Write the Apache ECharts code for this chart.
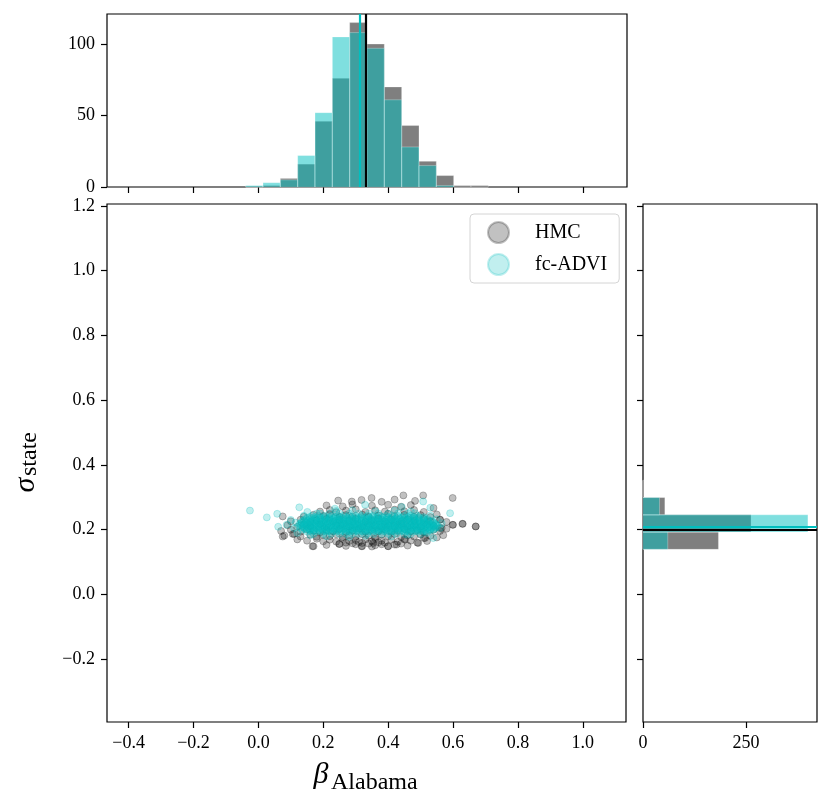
<!DOCTYPE html>
<html>
<head>
<meta charset="utf-8">
<script src="https://cdn.jsdelivr.net/npm/echarts@6/dist/echarts.min.js"></script>
<style>
html, body { margin: 0; padding: 0; background: #fff; }
#chart { width: 831px; height: 809px; }
</style>
</head>
<body>
<div id="chart"></div>
<script>
// axis ranges and ticks
var betaMin = -0.4667, betaMax = 1.1333;
var sigmaMin = -0.394, sigmaMax = 1.206;
var betaTicks = [-0.4, -0.2, 0, 0.2, 0.4, 0.6, 0.8, 1.0];
var sigmaTicks = [-0.2, 0, 0.2, 0.4, 0.6, 0.8, 1.0, 1.2];
var betaCountTicks = [0, 50, 100];
var sigmaCountTicks = [0, 250];
var betaCountMax = 121, sigmaCountMax = 422;

// histograms
var binWidth = 0.0533;
var betaBinStart = [-0.0400, 0.0133, 0.0667, 0.1200, 0.1733, 0.2267, 0.2800, 0.3333, 0.3867, 0.4400, 0.4933, 0.5467, 0.6000, 0.6533];
var hmcBetaCounts = [0, 1, 6, 16, 46, 76, 115, 100, 70, 43, 18, 8, 1, 1];
var advBetaCounts = [1, 3, 5, 22, 52, 105, 108, 97, 61, 28, 15, 1, 0, 0];
var sigmaBinStart = [0.1393, 0.1927, 0.2460, 0.2993];
var hmcSigmaCounts = [183, 262, 53, 2];
var advSigmaCounts = [60, 400, 40, 0];

// means
var hmcMeanBeta = 0.333, advMeanBeta = 0.314;
var hmcMeanSigma = 0.205, advMeanSigma = 0.215;

// HMC samples (beta, sigma)
var hmcPoints = [
  [0.21,0.153],[0.25,0.156],[0.27,0.150],[0.30,0.155],[0.32,0.149],[0.34,0.157],[0.36,0.152],[0.38,0.155],[0.40,0.149],[0.42,0.154],[0.44,0.157],[0.46,0.151],[0.29,0.158],[0.35,0.148],[0.17,0.149],
  [0.12,0.170],[0.15,0.166],[0.18,0.172],[0.20,0.164],[0.22,0.169],[0.24,0.163],[0.26,0.171],[0.28,0.165],[0.30,0.168],[0.31,0.162],[0.33,0.170],[0.35,0.164],[0.36,0.172],[0.38,0.166],[0.39,0.160],[0.41,0.169],[0.43,0.163],[0.45,0.171],[0.47,0.166],[0.49,0.160],[0.51,0.174],[0.52,0.165],[0.27,0.160],[0.32,0.159],[0.37,0.161],
  [0.08,0.182],[0.11,0.187],[0.13,0.179],[0.16,0.185],[0.18,0.178],[0.20,0.184],[0.22,0.180],[0.24,0.186],[0.26,0.177],[0.28,0.183],[0.30,0.179],[0.32,0.186],[0.34,0.181],[0.36,0.177],[0.38,0.184],[0.40,0.180],[0.42,0.187],[0.44,0.178],[0.46,0.183],[0.48,0.179],[0.50,0.185],[0.53,0.181],[0.55,0.176],[0.57,0.183],
  [0.07,0.196],[0.10,0.200],[0.13,0.194],[0.15,0.201],[0.17,0.197],[0.19,0.192],[0.21,0.199],[0.23,0.195],[0.25,0.202],[0.27,0.193],[0.29,0.198],[0.31,0.203],[0.33,0.194],[0.35,0.199],[0.37,0.195],[0.39,0.201],[0.41,0.193],[0.43,0.198],[0.45,0.202],[0.47,0.195],[0.49,0.199],[0.51,0.193],[0.54,0.200],[0.56,0.196],[0.58,0.203],
  [0.09,0.214],[0.12,0.209],[0.14,0.216],[0.16,0.211],[0.19,0.217],[0.21,0.208],[0.24,0.213],[0.26,0.218],[0.28,0.210],[0.30,0.215],[0.32,0.209],[0.34,0.217],[0.36,0.212],[0.38,0.208],[0.40,0.215],[0.42,0.211],[0.44,0.218],[0.46,0.209],[0.48,0.214],[0.50,0.210],[0.52,0.216],[0.54,0.212],[0.56,0.205],[0.60,0.215],[0.63,0.218],[0.67,0.210],
  [0.10,0.226],[0.13,0.231],[0.16,0.224],[0.18,0.229],[0.21,0.233],[0.23,0.225],[0.25,0.230],[0.28,0.227],[0.30,0.233],[0.33,0.224],[0.35,0.229],[0.37,0.234],[0.39,0.226],[0.41,0.231],[0.44,0.225],[0.46,0.232],[0.48,0.227],[0.51,0.233],[0.53,0.226],[0.56,0.231],[0.58,0.224],
  [0.075,0.241],[0.14,0.240],[0.17,0.246],[0.20,0.242],[0.22,0.248],[0.25,0.239],[0.27,0.245],[0.29,0.241],[0.32,0.247],[0.34,0.240],[0.37,0.244],[0.40,0.249],[0.42,0.241],[0.45,0.246],[0.48,0.240],[0.50,0.245],[0.53,0.239],[0.55,0.247],
  [0.19,0.256],[0.22,0.261],[0.24,0.254],[0.27,0.259],[0.30,0.263],[0.33,0.255],[0.36,0.260],[0.39,0.256],[0.42,0.262],[0.45,0.257],[0.48,0.261],[0.51,0.255],
  [0.21,0.275],[0.26,0.272],[0.29,0.278],[0.35,0.274],[0.40,0.277],[0.44,0.271],[0.54,0.267],[0.47,0.276],
  [0.246,0.290],[0.288,0.287],[0.318,0.292],[0.349,0.298],[0.447,0.306],[0.508,0.306],[0.483,0.289],[0.599,0.298],[0.38,0.286],[0.42,0.293],
  [0.075,0.179],[0.106,0.187],[0.167,0.149],[0.249,0.156],[0.318,0.149],[0.354,0.159],[0.40,0.149],[0.426,0.154],[0.452,0.169],[0.493,0.159],[0.514,0.174],[0.565,0.205],[0.56,0.231],[0.599,0.215],[0.629,0.218],[0.670,0.210]
];

// fc-ADVI samples: dense core rows (sigma level + beta values) and the scattered edge points
var advCoreSigma = [0.187, 0.194, 0.197, 0.200, 0.203, 0.206, 0.209, 0.212, 0.215, 0.218, 0.221, 0.224, 0.227, 0.230, 0.233, 0.236, 0.239, 0.243, 0.250];
var advCoreBeta = [
  [0.17,0.20,0.225,0.25,0.27,0.29,0.31,0.335,0.355,0.38,0.40,0.425,0.45,0.47,0.50],
  [0.15,0.165,0.18,0.196,0.21,0.224,0.24,0.253,0.268,0.281,0.296,0.31,0.323,0.338,0.351,0.366,0.38,0.394,0.407,0.421,0.436,0.45,0.464,0.479,0.492,0.507,0.52],
  [0.158,0.173,0.188,0.203,0.217,0.232,0.246,0.261,0.275,0.289,0.303,0.317,0.331,0.345,0.359,0.373,0.387,0.401,0.414,0.428,0.443,0.457,0.471,0.486,0.5,0.514,0.53],
  [0.135,0.147,0.16,0.172,0.185,0.197,0.21,0.221,0.234,0.246,0.258,0.27,0.283,0.295,0.307,0.32,0.332,0.344,0.357,0.369,0.381,0.394,0.406,0.418,0.431,0.443,0.455,0.468,0.48,0.492,0.505,0.517,0.53,0.54],
  [0.142,0.156,0.169,0.183,0.196,0.209,0.223,0.236,0.249,0.263,0.276,0.289,0.302,0.316,0.329,0.342,0.356,0.369,0.382,0.396,0.409,0.422,0.436,0.449,0.462,0.476,0.489,0.502,0.516,0.529,0.542],
  [0.13,0.141,0.154,0.166,0.178,0.19,0.203,0.215,0.227,0.24,0.252,0.264,0.276,0.289,0.301,0.313,0.326,0.338,0.35,0.362,0.375,0.387,0.399,0.412,0.424,0.436,0.449,0.461,0.473,0.485,0.498,0.51,0.522,0.535,0.547],
  [0.136,0.15,0.163,0.177,0.19,0.204,0.217,0.231,0.244,0.258,0.271,0.285,0.298,0.312,0.325,0.339,0.352,0.366,0.379,0.393,0.406,0.42,0.433,0.447,0.46,0.474,0.487,0.501,0.514,0.528,0.541,0.55],
  [0.125,0.137,0.149,0.161,0.174,0.186,0.198,0.21,0.223,0.235,0.247,0.259,0.272,0.284,0.296,0.308,0.321,0.333,0.345,0.357,0.37,0.382,0.394,0.406,0.419,0.431,0.443,0.455,0.468,0.48,0.492,0.504,0.517,0.529,0.541,0.552],
  [0.131,0.145,0.158,0.172,0.185,0.199,0.212,0.226,0.239,0.253,0.266,0.28,0.293,0.307,0.32,0.334,0.347,0.361,0.374,0.388,0.401,0.415,0.428,0.442,0.455,0.469,0.482,0.496,0.509,0.523,0.536,0.548],
  [0.128,0.14,0.152,0.165,0.177,0.189,0.201,0.214,0.226,0.238,0.25,0.263,0.275,0.287,0.299,0.312,0.324,0.336,0.348,0.361,0.373,0.385,0.397,0.41,0.422,0.434,0.446,0.459,0.471,0.483,0.495,0.508,0.52,0.532,0.545],
  [0.134,0.148,0.161,0.175,0.188,0.202,0.215,0.229,0.242,0.256,0.269,0.283,0.296,0.31,0.323,0.337,0.35,0.364,0.377,0.391,0.404,0.418,0.431,0.445,0.458,0.472,0.485,0.499,0.512,0.526,0.54],
  [0.133,0.145,0.157,0.17,0.182,0.194,0.206,0.219,0.231,0.243,0.255,0.268,0.28,0.292,0.304,0.317,0.329,0.341,0.353,0.366,0.378,0.39,0.402,0.415,0.427,0.439,0.451,0.464,0.476,0.488,0.5,0.513,0.525,0.538],
  [0.139,0.153,0.167,0.181,0.195,0.208,0.222,0.236,0.25,0.263,0.277,0.291,0.305,0.318,0.332,0.346,0.36,0.373,0.387,0.401,0.415,0.428,0.442,0.456,0.47,0.483,0.497,0.511,0.525,0.535],
  [0.14,0.153,0.166,0.179,0.191,0.204,0.217,0.229,0.242,0.255,0.267,0.28,0.293,0.305,0.318,0.331,0.343,0.356,0.369,0.381,0.394,0.407,0.419,0.432,0.445,0.457,0.47,0.483,0.495,0.508,0.52],
  [0.146,0.161,0.175,0.19,0.204,0.219,0.233,0.248,0.262,0.277,0.291,0.306,0.32,0.335,0.349,0.364,0.378,0.393,0.407,0.422,0.436,0.451,0.465,0.48,0.494,0.509,0.522],
  [0.15,0.164,0.178,0.191,0.205,0.219,0.233,0.246,0.26,0.274,0.288,0.301,0.315,0.329,0.343,0.356,0.37,0.384,0.398,0.411,0.425,0.439,0.453,0.466,0.48,0.494,0.51],
  [0.158,0.174,0.19,0.206,0.222,0.238,0.254,0.27,0.286,0.302,0.318,0.334,0.35,0.366,0.382,0.398,0.414,0.43,0.446,0.462,0.478,0.495,0.51],
  [0.165,0.185,0.205,0.225,0.245,0.262,0.28,0.30,0.318,0.338,0.355,0.375,0.393,0.412,0.43,0.45,0.468,0.49],
  [0.19,0.22,0.25,0.28,0.31,0.34,0.37,0.40,0.43,0.46]
];
var advEdgePoints = [
  [-0.026,0.259],[0.026,0.238],[0.058,0.249],[0.061,0.209],[0.087,0.215],[0.126,0.269],[0.151,0.255],[0.236,0.265],[0.329,0.277],[0.442,0.270],[0.483,0.251],[0.508,0.287],[0.591,0.251],[0.539,0.174],[0.10,0.230],[0.53,0.268],
  [0.11,0.205],[0.115,0.222],[0.12,0.190],[0.16,0.183],[0.21,0.180],[0.28,0.178],[0.33,0.181],[0.41,0.179],[0.46,0.184],[0.52,0.190],[0.56,0.205],[0.565,0.220],[0.55,0.232],[0.53,0.244],[0.47,0.256],[0.42,0.259],[0.36,0.257],[0.29,0.260],[0.24,0.258],[0.18,0.250],[0.14,0.243]
];

var advPoints = advEdgePoints.slice();
for (var r = 0; r < advCoreSigma.length; r++) {
  for (var c = 0; c < advCoreBeta[r].length; c++) {
    advPoints.push([advCoreBeta[r][c], advCoreSigma[r]]);
  }
}

function binItems(starts, counts) {
  var out = [];
  for (var i = 0; i < starts.length; i++) {
    out.push([starts[i], starts[i] + binWidth, counts[i]]);
  }
  return out;
}

function histRender(horizontal, color) {
  return function (params, api) {
    var a = api.value(0), b = api.value(1), n = api.value(2);
    var p0, p1;
    if (horizontal) {
      p0 = api.coord([0, b]);
      p1 = api.coord([n, a]);
    } else {
      p0 = api.coord([a, n]);
      p1 = api.coord([b, 0]);
    }
    return {
      type: 'rect',
      shape: { x: p0[0], y: p0[1], width: p1[0] - p0[0], height: p1[1] - p0[1] },
      style: { fill: color, stroke: 'rgba(255,255,255,0.35)', lineWidth: 0.8 }
    };
  };
}

function meanLine(color, item) {
  return {
    silent: true,
    symbol: 'none',
    label: { show: false },
    lineStyle: { color: color, width: 2.2, type: 'solid', opacity: 1 },
    emphasis: { disabled: true },
    data: [item]
  };
}

function tickLabel(v) {
  return (v < 0 ? '\u2212' : '') + Math.abs(v).toFixed(1);
}

var FONT = 'Liberation Serif';
var hmcColor = 'rgba(0,0,0,0.3)', advColor = 'rgba(0,191,191,0.3)';
var hmcHist = 'rgba(0,0,0,0.5)', advHist = 'rgba(0,191,191,0.5)';
var frame = { show: true, borderColor: '#000', borderWidth: 1.2, backgroundColor: 'transparent' };
var tickStyle = { show: true, inside: false, length: 6, lineStyle: { color: '#000', width: 1.2 } };
var noLine = { show: false, onZero: false };

function mk(base, extra) {
  var o = {};
  for (var k in base) o[k] = base[k];
  for (var k2 in extra) o[k2] = extra[k2];
  return o;
}

var option = {
  animation: false,
  textStyle: { fontFamily: FONT },
  grid: [
    mk(frame, { left: 107, top: 14, width: 520, height: 173 }),
    mk(frame, { left: 107, top: 204, width: 519, height: 518 }),
    mk(frame, { left: 643, top: 204, width: 174, height: 518 })
  ],
  xAxis: [
    { gridIndex: 0, type: 'value', min: betaMin, max: betaMax, position: 'bottom',
      axisLine: noLine, splitLine: { show: false },
      axisTick: mk(tickStyle, { customValues: betaTicks }),
      axisLabel: { show: false } },
    { gridIndex: 1, type: 'value', min: betaMin, max: betaMax, position: 'bottom',
      axisLine: noLine, splitLine: { show: false },
      axisTick: mk(tickStyle, { customValues: betaTicks }),
      axisLabel: { customValues: betaTicks, formatter: tickLabel, color: '#000', fontSize: 18, fontFamily: FONT, margin: 12 } },
    { gridIndex: 2, type: 'value', min: 0, max: sigmaCountMax, position: 'bottom',
      axisLine: noLine, splitLine: { show: false },
      axisTick: mk(tickStyle, { customValues: sigmaCountTicks }),
      axisLabel: { customValues: sigmaCountTicks, color: '#000', fontSize: 18, fontFamily: FONT, margin: 12 } }
  ],
  yAxis: [
    { gridIndex: 0, type: 'value', min: 0, max: betaCountMax, position: 'left',
      axisLine: noLine, splitLine: { show: false },
      axisTick: mk(tickStyle, { customValues: betaCountTicks }),
      axisLabel: { customValues: betaCountTicks, color: '#000', fontSize: 18, fontFamily: FONT, margin: 12 } },
    { gridIndex: 1, type: 'value', min: sigmaMin, max: sigmaMax, position: 'left',
      axisLine: noLine, splitLine: { show: false },
      axisTick: mk(tickStyle, { customValues: sigmaTicks }),
      axisLabel: { customValues: sigmaTicks, formatter: tickLabel, color: '#000', fontSize: 18, fontFamily: FONT, margin: 12 } },
    { gridIndex: 2, type: 'value', min: sigmaMin, max: sigmaMax, position: 'left',
      axisLine: noLine, splitLine: { show: false },
      axisTick: mk(tickStyle, { customValues: sigmaTicks }),
      axisLabel: { show: false } }
  ],
  legend: {
    data: ['HMC', 'fc-ADVI'],
    orient: 'vertical',
    left: 470, top: 214,
    icon: 'circle',
    itemWidth: 21, itemHeight: 21, itemGap: 9,
    padding: [7, 12, 7, 17],
    borderColor: '#d4d4d4', borderWidth: 1, borderRadius: 4,
    backgroundColor: 'rgba(255,255,255,0.85)',
    selectedMode: false,
    textStyle: { fontFamily: FONT, fontSize: 20, color: '#000', padding: [0, 0, 0, 21] }
  },
  series: [
    { name: 'HMC', type: 'scatter', xAxisIndex: 1, yAxisIndex: 1, silent: true,
      symbol: 'circle', symbolSize: 7, data: hmcPoints,
      itemStyle: { color: hmcColor, borderColor: hmcColor, borderWidth: 1 } },
    { name: 'fc-ADVI', type: 'scatter', xAxisIndex: 1, yAxisIndex: 1, silent: true,
      symbol: 'circle', symbolSize: 7, data: advPoints,
      itemStyle: { color: advColor, borderColor: advColor, borderWidth: 1 } },
    { type: 'custom', xAxisIndex: 0, yAxisIndex: 0, silent: true,
      renderItem: histRender(false, hmcHist), data: binItems(betaBinStart, hmcBetaCounts),
      encode: { x: [0, 1], y: 2 } },
    { type: 'custom', xAxisIndex: 0, yAxisIndex: 0, silent: true,
      renderItem: histRender(false, advHist), data: binItems(betaBinStart, advBetaCounts),
      encode: { x: [0, 1], y: 2 },
      markLine: meanLine('#00bfbf', { xAxis: advMeanBeta }) },
    { type: 'line', xAxisIndex: 0, yAxisIndex: 0, silent: true, data: [],
      markLine: meanLine('#000', { xAxis: hmcMeanBeta }) },
    { type: 'custom', xAxisIndex: 2, yAxisIndex: 2, silent: true,
      renderItem: histRender(true, hmcHist), data: binItems(sigmaBinStart, hmcSigmaCounts),
      encode: { y: [0, 1], x: 2 } },
    { type: 'custom', xAxisIndex: 2, yAxisIndex: 2, silent: true,
      renderItem: histRender(true, advHist), data: binItems(sigmaBinStart, advSigmaCounts),
      encode: { y: [0, 1], x: 2 } },
    { type: 'line', xAxisIndex: 2, yAxisIndex: 2, silent: true, data: [],
      markLine: meanLine('#00bfbf', { yAxis: advMeanSigma }) },
    { type: 'line', xAxisIndex: 2, yAxisIndex: 2, silent: true, data: [],
      markLine: meanLine('#000', { yAxis: hmcMeanSigma }) }
  ],
  graphic: [
    { type: 'text', x: 321, y: 775, silent: true,
      style: { text: '\u03b2', fontSize: 30, fontStyle: 'italic', fontFamily: FONT, fill: '#000',
               align: 'center', verticalAlign: 'middle', textAlign: 'center', textVerticalAlign: 'middle' } },
    { type: 'text', x: 331, y: 783, silent: true,
      style: { text: 'Alabama', fontSize: 24, fontFamily: FONT, fill: '#000',
               align: 'left', verticalAlign: 'middle', textAlign: 'left', textVerticalAlign: 'middle' } },
    { type: 'text', x: 26, y: 485, rotation: Math.PI / 2, silent: true,
      style: { text: '\u03c3', fontSize: 30, fontStyle: 'italic', fontFamily: FONT, fill: '#000',
               align: 'center', verticalAlign: 'middle', textAlign: 'center', textVerticalAlign: 'middle' } },
    { type: 'text', x: 30, y: 454, rotation: Math.PI / 2, silent: true,
      style: { text: 'state', fontSize: 24, fontFamily: FONT, fill: '#000',
               align: 'center', verticalAlign: 'middle', textAlign: 'center', textVerticalAlign: 'middle' } }
  ]
};

echarts.init(document.getElementById('chart')).setOption(option);
</script>
</body>
</html>
